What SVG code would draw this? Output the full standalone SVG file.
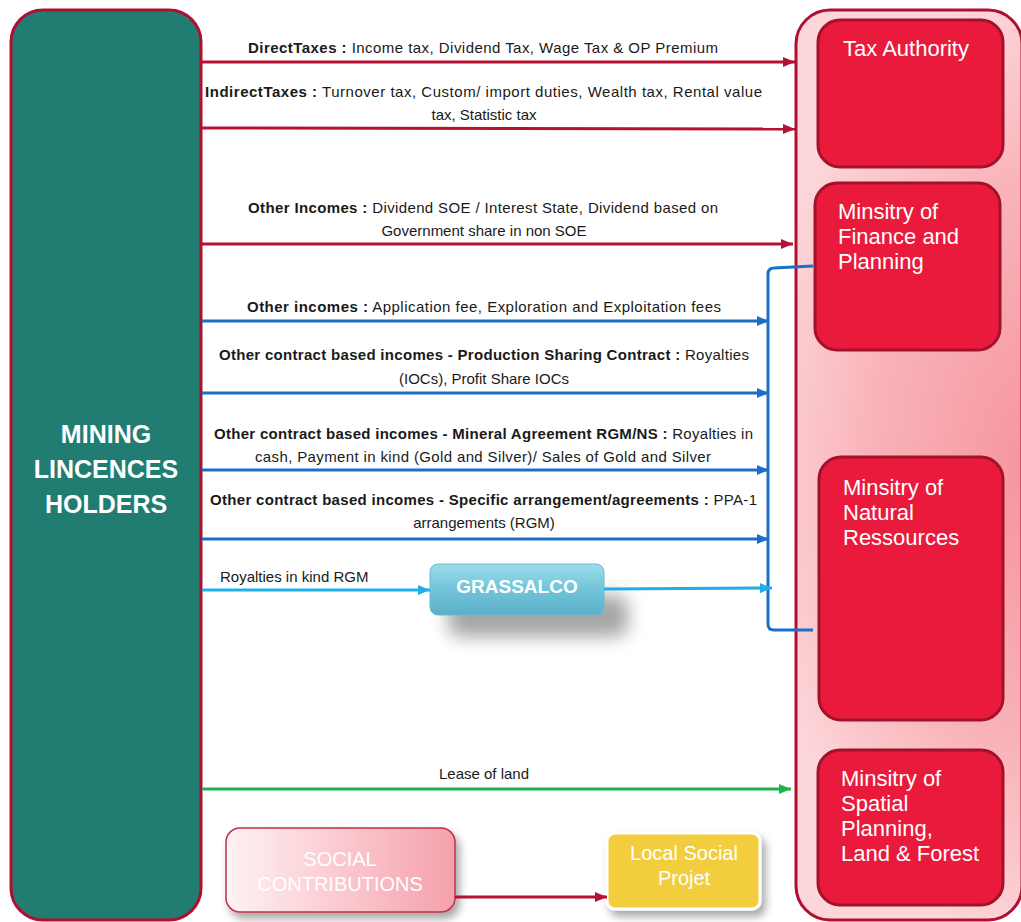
<svg xmlns="http://www.w3.org/2000/svg" width="1021" height="922" viewBox="0 0 1021 922">
<defs>
<style>
.lbl{font-family:"Liberation Sans",Arial,sans-serif;font-size:15px;fill:#1a1a1a;text-anchor:middle}
.b{font-weight:bold}
.box{fill:#EA1A3C;stroke:#A3112B;stroke-width:3}
.bt{font-family:"Liberation Sans",Arial,sans-serif;font-size:22px;fill:#fff}
.red{stroke:#B51233;stroke-width:3;fill:none}
.blue{stroke:#1B70C5;stroke-width:3;fill:none}
.lblue{stroke:#20AEEA;stroke-width:3;fill:none}
.green{stroke:#1DB24D;stroke-width:3;fill:none}
.wt{font-family:"Liberation Sans",Arial,sans-serif;fill:#fff;text-anchor:middle}
</style>
<marker id="mr" viewBox="0 0 12 10" refX="12" refY="5" markerWidth="12" markerHeight="10" markerUnits="userSpaceOnUse" orient="auto"><path d="M0,0 L12,5 L0,10 Z" fill="#B51233"/></marker>
<marker id="mb" viewBox="0 0 12 10" refX="12" refY="5" markerWidth="12" markerHeight="10" markerUnits="userSpaceOnUse" orient="auto"><path d="M0,0 L12,5 L0,10 Z" fill="#1B70C5"/></marker>
<marker id="ml" viewBox="0 0 12 10" refX="12" refY="5" markerWidth="12" markerHeight="10" markerUnits="userSpaceOnUse" orient="auto"><path d="M0,0 L12,5 L0,10 Z" fill="#20AEEA"/></marker>
<marker id="mg" viewBox="0 0 12 10" refX="12" refY="5" markerWidth="12" markerHeight="10" markerUnits="userSpaceOnUse" orient="auto"><path d="M0,0 L12,5 L0,10 Z" fill="#1DB24D"/></marker>
<radialGradient id="pink" gradientUnits="userSpaceOnUse" cx="1040" cy="470" r="480" gradientTransform="translate(1040,470) scale(0.6,1) translate(-1040,-470)">
<stop offset="0" stop-color="#F6939C"/>
<stop offset="0.6" stop-color="#F9B4BA"/>
<stop offset="1" stop-color="#FCD6D9"/>
</radialGradient>
<linearGradient id="gras" x1="0" y1="0" x2="0" y2="1">
<stop offset="0" stop-color="#9ADCEA"/>
<stop offset="0.5" stop-color="#72C4D8"/>
<stop offset="1" stop-color="#5AB0C8"/>
</linearGradient>
<linearGradient id="soc" x1="0" y1="0" x2="1" y2="0">
<stop offset="0" stop-color="#FFF2F4"/>
<stop offset="1" stop-color="#F5A0AB"/>
</linearGradient>
<filter id="sh" x="-40%" y="-50%" width="180%" height="220%">
<feGaussianBlur stdDeviation="9"/>
</filter>
<filter id="ds" x="-20%" y="-20%" width="150%" height="150%">
<feDropShadow dx="4" dy="6" stdDeviation="4" flood-color="#000" flood-opacity="0.35"/>
</filter>
</defs>
<rect width="1021" height="922" fill="#fff"/>

<g id="holders">
<rect x="11" y="10" width="190" height="910" rx="32" fill="#217C72" stroke="#B01030" stroke-width="3"/>
<text class="wt" font-weight="bold" font-size="25"><tspan x="106" y="443">MINING</tspan><tspan x="106" y="478">LINCENCES</tspan><tspan x="106" y="513">HOLDERS</tspan></text>
</g>

<g id="government">
<rect x="796" y="10" width="226" height="910" rx="34" fill="url(#pink)" stroke="#B01030" stroke-width="3"/>
</g>

<g id="tax-authority">
<rect class="box" x="818" y="20" width="185" height="147" rx="22"/>
<text class="bt" x="843" y="56">Tax Authority</text>
</g>
<g id="finance">
<rect class="box" x="815" y="183" width="185" height="167" rx="22"/>
<text class="bt"><tspan x="838" y="219">Minsitry of</tspan><tspan x="838" y="244">Finance and</tspan><tspan x="838" y="269">Planning</tspan></text>
</g>
<g id="natural-resources">
<rect class="box" x="819" y="457" width="184" height="263" rx="22"/>
<text class="bt"><tspan x="843" y="495">Minsitry of</tspan><tspan x="843" y="520">Natural</tspan><tspan x="843" y="545">Ressources</tspan></text>
</g>
<g id="spatial-planning">
<rect class="box" x="818" y="750" width="185" height="155" rx="22"/>
<text class="bt"><tspan x="841" y="786">Minsitry of</tspan><tspan x="841" y="811">Spatial</tspan><tspan x="841" y="836">Planning,</tspan><tspan x="841" y="861">Land &amp; Forest</tspan></text>
</g>

<g id="grassalco">
<rect x="448" y="595" width="180" height="42" rx="12" fill="#000" opacity="0.35" filter="url(#sh)"/>
<rect x="430" y="564" width="174" height="51" rx="8" fill="url(#gras)" stroke="#6BBCD0" stroke-width="1"/>
<text class="wt" x="517" y="593" font-weight="bold" font-size="19">GRASSALCO</text>
</g>

<g id="social-contributions">
<rect x="226" y="828" width="229" height="84" rx="14" fill="url(#soc)" stroke="#C0304A" stroke-width="1.5" filter="url(#ds)"/>
<text class="wt" font-size="20"><tspan x="340" y="866">SOCIAL</tspan><tspan x="340" y="891">CONTRIBUTIONS</tspan></text>
</g>

<g id="local-social-project">
<rect x="607" y="833" width="153" height="76" rx="8" fill="#F2CD3E" stroke="#fff" stroke-width="3" filter="url(#ds)"/>
<text class="wt" font-size="20"><tspan x="684" y="860">Local Social</tspan><tspan x="684" y="885">Projet</tspan></text>
</g>

<g id="connectors">
<line class="red" x1="202" y1="62" x2="795" y2="62" marker-end="url(#mr)"/>
<line class="red" x1="202" y1="128" x2="795" y2="129" marker-end="url(#mr)"/>
<line class="red" x1="202" y1="244" x2="793" y2="244" marker-end="url(#mr)"/>
<line class="blue" x1="202" y1="321" x2="769" y2="321" marker-end="url(#mb)"/>
<line class="blue" x1="202" y1="393" x2="769" y2="393" marker-end="url(#mb)"/>
<line class="blue" x1="202" y1="470" x2="769" y2="470" marker-end="url(#mb)"/>
<line class="blue" x1="202" y1="539" x2="769" y2="539" marker-end="url(#mb)"/>
<path class="blue" d="M813,266 L774,268 Q768,268 768,274 L768,624 Q768,630 774,630 L813,630"/>
<line class="lblue" x1="202" y1="590" x2="430" y2="590" marker-end="url(#ml)"/>
<line class="lblue" x1="604" y1="589" x2="772" y2="588" marker-end="url(#ml)"/>
<line class="green" x1="202" y1="789" x2="791" y2="789" marker-end="url(#mg)"/>
<line class="red" x1="455" y1="897" x2="607" y2="897" marker-end="url(#mr)"/>
</g>

<g id="labels">
<text class="lbl" x="483" y="53" textLength="470"><tspan class="b">DirectTaxes :</tspan> Income tax, Dividend Tax, Wage Tax &amp; OP Premium</text>
<text class="lbl" x="483.5" y="97" textLength="557"><tspan class="b">IndirectTaxes :</tspan> Turnover tax, Custom/ import duties, Wealth tax, Rental value</text>
<text class="lbl" x="484" y="120">tax, Statistic tax</text>
<text class="lbl" x="483" y="213" textLength="470"><tspan class="b">Other Incomes :</tspan> Dividend SOE / Interest State, Dividend based on</text>
<text class="lbl" x="484" y="236">Government share in non SOE</text>
<text class="lbl" x="484" y="312" textLength="474"><tspan class="b">Other incomes :</tspan> Application fee, Exploration and Exploitation fees</text>
<text class="lbl" x="484" y="360" textLength="530"><tspan class="b">Other contract based incomes - Production Sharing Contract :</tspan> Royalties</text>
<text class="lbl" x="484" y="384">(IOCs), Profit Share IOCs</text>
<text class="lbl" x="483.5" y="439" textLength="539"><tspan class="b">Other contract based incomes - Mineral Agreement RGM/NS :</tspan> Royalties in</text>
<text class="lbl" x="483" y="462" textLength="456">cash, Payment in kind (Gold and Silver)/ Sales of Gold and Silver</text>
<text class="lbl" x="483.5" y="505" textLength="547"><tspan class="b">Other contract based incomes - Specific arrangement/agreements :</tspan> PPA-1</text>
<text class="lbl" x="484" y="528">arrangements (RGM)</text>
<text class="lbl" x="220" y="582" style="text-anchor:start">Royalties in kind RGM</text>
<text class="lbl" x="484" y="779">Lease of land</text>
</g>
</svg>
